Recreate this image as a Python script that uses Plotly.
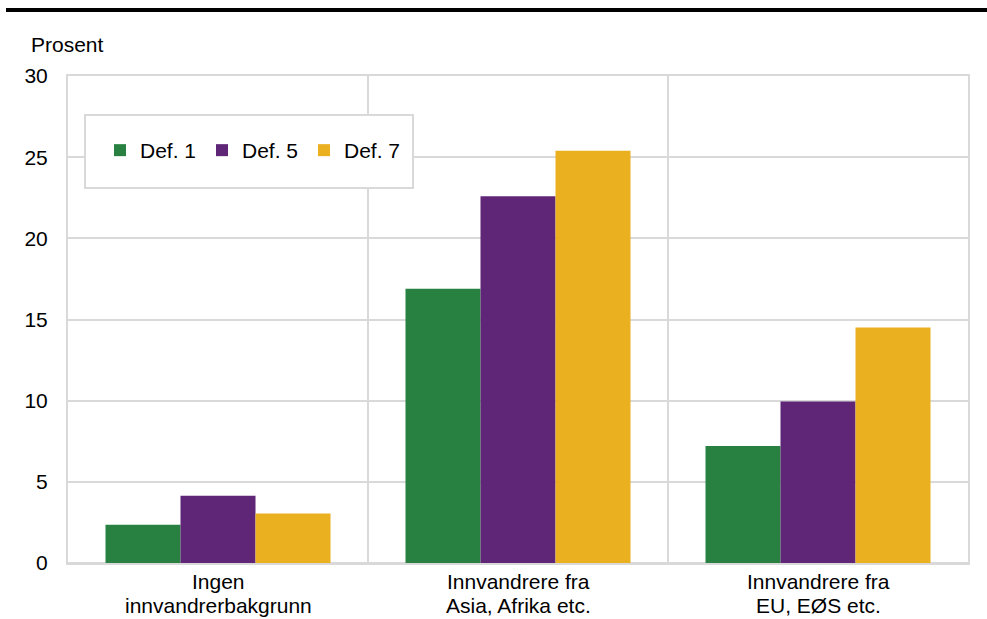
import plotly.graph_objects as go

# Share of households by group under three definitions (percent)
categories = ["Ingen innvandrerbakgrunn", "Innvandrere fra Asia, Afrika etc.", "Innvandrere fra EU, EØS etc."]
category_lines = [("Ingen", "innvandrerbakgrunn"),
                  ("Innvandrere fra", "Asia, Afrika etc."),
                  ("Innvandrere fra", "EU, EØS etc.")]
def_1 = [2.35, 16.9, 7.2]
def_5 = [4.15, 22.6, 9.95]
def_7 = [3.05, 25.4, 14.5]
series_names = ["Def. 1", "Def. 5", "Def. 7"]
series_colors = ["#288140", "#5f2677", "#eab020"]
y_ticks = [0, 5, 10, 15, 20, 25, 30]

W, H = 987, 619
ML, MR, MT, MB = 68, 19, 76, 56
pw, ph = W - ML - MR, H - MT - MB

FONT = "Liberation Sans, Arial, sans-serif"
GRID = "#d9d9d9"

fig = go.Figure()
for name, vals, col in zip(series_names, [def_1, def_5, def_7], series_colors):
    fig.add_trace(go.Bar(x=categories, y=vals, name=name,
                         marker=dict(color=col, line=dict(width=0))))

def px_x(p):
    return (p - ML) / pw

def px_y(p):
    return (H - MB - p) / ph

shapes = [
    # rule across the top of the figure
    dict(type="line", xref="paper", yref="paper",
         x0=px_x(6), x1=px_x(987), y0=px_y(10), y1=px_y(10),
         line=dict(color="black", width=4)),
    # legend frame
    dict(type="rect", xref="paper", yref="paper", layer="above",
         x0=px_x(85), x1=px_x(413), y0=px_y(188), y1=px_y(115),
         fillcolor="white", line=dict(color=GRID, width=2)),
]

# two-line category labels under the axis, with tighter line spacing
annotations = [dict(text="Prosent", xref="paper", yref="paper",
                    x=px_x(29), y=px_y(45), xanchor="left", yanchor="middle",
                    showarrow=False, font=dict(family=FONT, size=21, color="black"))]
for cat, (l1, l2) in zip(categories, category_lines):
    for txt, ypix in ((l1, 581), (l2, 605)):
        annotations.append(dict(text=txt, x=cat, xref="x", yref="paper",
                                y=px_y(ypix), xanchor="center", yanchor="middle",
                                showarrow=False,
                                font=dict(family=FONT, size=21, color="black")))

fig.update_layout(
    width=W, height=H,
    margin=dict(l=ML, r=MR, t=MT, b=MB, pad=0),
    paper_bgcolor="white", plot_bgcolor="white",
    font=dict(family=FONT, size=21, color="black"),
    barmode="group", bargap=0.25, bargroupgap=0,
    showlegend=True,
    legend=dict(orientation="h", x=px_x(100), y=px_y(130), xanchor="left", yanchor="top",
                bgcolor="rgba(0,0,0,0)", borderwidth=0,
                entrywidth=57, entrywidthmode="pixels",
                font=dict(family=FONT, size=21, color="black"),
                itemsizing="constant", traceorder="normal"),
    xaxis=dict(tickson="boundaries", showgrid=True, gridcolor=GRID, gridwidth=2,
               ticks="", showticklabels=False,
               showline=True, linecolor=GRID, linewidth=2, mirror=True,
               zeroline=False, automargin=False),
    yaxis=dict(range=[0, 30], tickvals=y_ticks, showgrid=True, gridcolor=GRID, gridwidth=2,
               zeroline=True, zerolinecolor=GRID, zerolinewidth=2,
               ticks="", showline=True, linecolor=GRID, linewidth=2, mirror=True,
               ticklabelstandoff=14, automargin=False,
               tickfont=dict(family=FONT, size=21)),
    shapes=shapes,
    annotations=annotations,
)

fig.write_html("out.html")
